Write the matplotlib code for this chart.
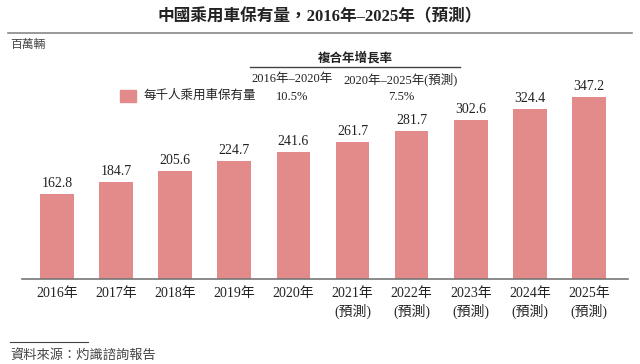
import matplotlib
matplotlib.use("Agg")
import matplotlib.pyplot as plt
from matplotlib.patches import Rectangle
from matplotlib.lines import Line2D

plt.rcParams['font.family'] = ['Liberation Serif', 'Noto Sans CJK TC', 'DejaVu Sans']

years = ["2016年", "2017年", "2018年", "2019年", "2020年",
         "2021年\n(預測)", "2022年\n(預測)", "2023年\n(預測)", "2024年\n(預測)", "2025年\n(預測)"]
values = [162.8, 184.7, 205.6, 224.7, 241.6, 261.7, 281.7, 302.6, 324.4, 347.2]
value_labels = ["162.8", "184.7", "205.6", "224.7", "241.6", "261.7", "281.7", "302.6", "324.4", "347.2"]
title = "中國乘用車保有量，2016年–2025年（預測）"
unit = "百萬輛"
legend_label = "每千人乘用車保有量"
cagr_header = "複合年增長率"
cagr_periods = ["2016年–2020年", "2020年–2025年(預測)"]
cagr_values = ["10.5%", "7.5%"]
source = "資料來源：灼識諮詢報告"

W, H = 640, 364
bar_color = "#E38A8B"
text_color = "#222222"

fig = plt.figure(figsize=(W / 100, H / 100), dpi=100)

def fx(px):
    return px / W

def fy(py):
    return 1 - py / H

ax_left, ax_right, ax_bottom, ax_top = 22, 628, 279, 60
ax = fig.add_axes([fx(ax_left), fy(ax_bottom), fx(ax_right - ax_left), (ax_bottom - ax_top) / H])
x = list(range(len(values)))
ax.bar(x, values, width=0.57, color=bar_color)
ax.set_xlim(-0.59, 9.66)
ax.set_ylim(0, 418)
for xi, v, lab in zip(x, values, value_labels):
    ax.text(xi, v + 8, lab, ha="center", va="bottom", fontsize=10, color=text_color)
ax.set_xticks(x)
ax.set_xticklabels(years, fontsize=10, color=text_color, linespacing=1.25)
ax.tick_params(axis="x", length=0, pad=6)
ax.set_yticks([])
for s in ["top", "right", "left"]:
    ax.spines[s].set_visible(False)
ax.spines["bottom"].set_color("#777777")
ax.spines["bottom"].set_linewidth(1.2)

# Title
fig.text(0.5, fy(17), title, ha="center", va="center", fontsize=12, fontweight="bold", color=text_color)
fig.add_artist(Line2D([fx(8), fx(632)], [fy(33), fy(33)], color="#888888", lw=1.2))
fig.text(fx(10), fy(45), unit, ha="left", va="center", fontsize=8.5, style="italic", color="#444444")

# CAGR table
fig.text(fx(355), fy(58), cagr_header, ha="center", va="center", fontsize=9, fontweight="bold", color=text_color)
fig.add_artist(Line2D([fx(250), fx(460)], [fy(67), fy(67)], color="#444444", lw=1.0))
fig.text(fx(292), fy(79), cagr_periods[0], ha="center", va="center", fontsize=9, color=text_color)
fig.text(fx(401), fy(79), cagr_periods[1], ha="center", va="center", fontsize=9, color=text_color)
fig.text(fx(292), fy(97), cagr_values[0], ha="center", va="center", fontsize=9, color=text_color)
fig.text(fx(401), fy(97), cagr_values[1], ha="center", va="center", fontsize=9, color=text_color)

# Legend
fig.add_artist(Rectangle((fx(120), fy(102)), fx(16), 12 / H, color=bar_color, transform=fig.transFigure))
fig.text(fx(143), fy(96), legend_label, ha="left", va="center", fontsize=9, color=text_color)

# Source
fig.add_artist(Line2D([fx(10), fx(88)], [fy(342), fy(342)], color="#444444", lw=0.8))
fig.text(fx(10), fy(355), source, ha="left", va="center", fontsize=9.5, style="italic", color="#444444")

fig.savefig("out.png", dpi=100)
